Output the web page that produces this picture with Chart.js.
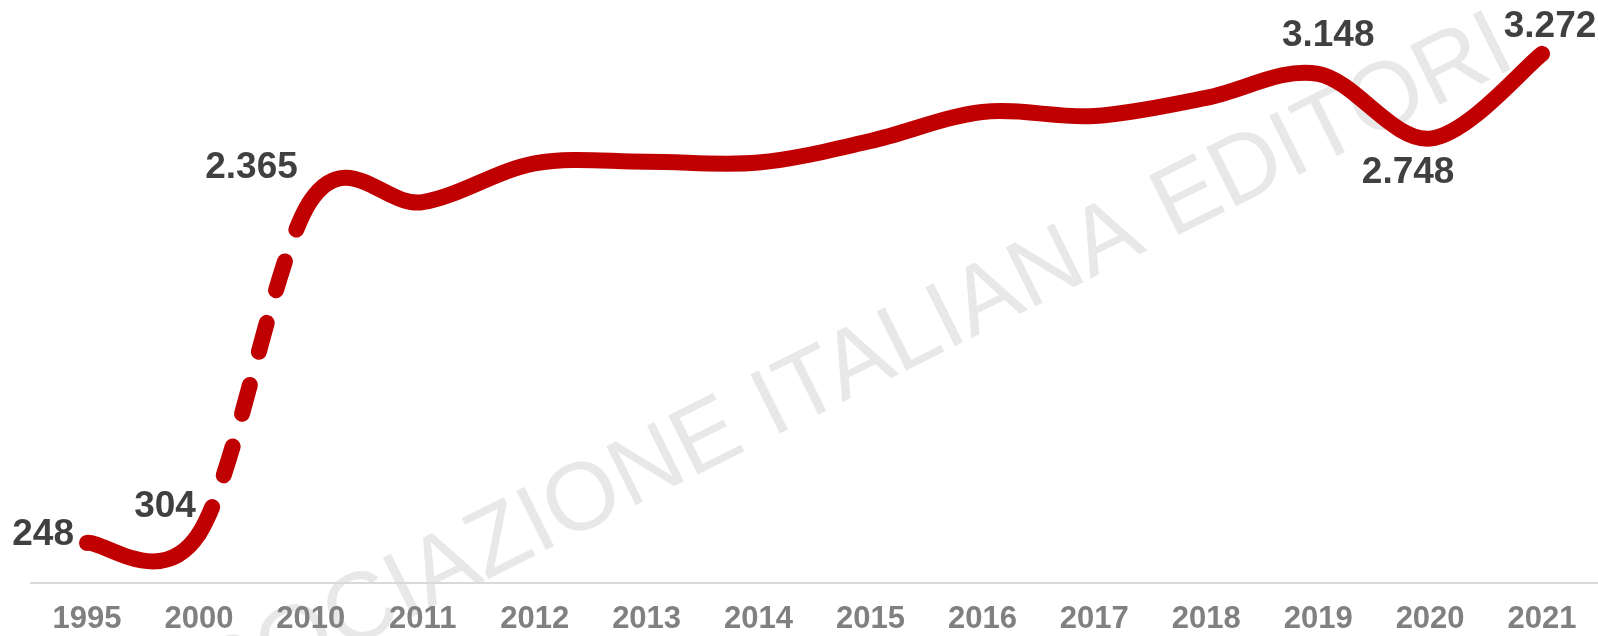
<!DOCTYPE html>
<html>
<head>
  <title>Titoli</title>
  <script src="https://cdn.jsdelivr.net/npm/chart.js"></script>
  <style>
    body { margin: 0; background: #ffffff; }
    #wrap { width: 1598px; height: 636px; position: relative; }
  </style>
</head>
<body>
  <div id="wrap">
    <canvas id="myChart"></canvas>
  </div>
  <script>
    // anni e valori
    var years = ['1995', '2000', '2010', '2011', '2012', '2013', '2014', '2015', '2016', '2017', '2018', '2019', '2020', '2021'];
    var values = [248, 304, 2365, 2355, 2595, 2605, 2600, 2733, 2913, 2888, 3000, 3148, 2748, 3272];
    // quali punti hanno l'etichetta
    var labelled = [0, 1, 2, 11, 12, 13];
    var watermark = 'ASSOCIAZIONE ITALIANA EDITORI';

    // posizione etichette: align + spostamento dal punto
    var labelPos = {
      0: { align: 'right', dx: -13, dy: -8 },
      1: { align: 'right', dx: -3, dy: -27 },
      2: { align: 'right', dx: -13, dy: -33 },
      11: { align: 'center', dx: 10, dy: -38 },
      12: { align: 'center', dx: -22, dy: 34 },
      13: { align: 'center', dx: 8, dy: -27 }
    };

    function fmt(n) {
      return String(n).replace(/\B(?=(\d{3})+(?!\d))/g, '.');
    }

    // curva "smussata" stile Excel: punti di controllo a 1/6 della corda
    var smoothPlugin = {
      id: 'excelSmooth',
      afterDatasetUpdate: function(chart, args) {
        var meta = chart.getDatasetMeta(args.index);
        var pts = meta.data;
        for (var i = 0; i < pts.length; i++) {
          var p = pts[i];
          var a = pts[i - 1] || p;
          var b = pts[i + 1] || p;
          var dx = (b.x - a.x) / 6, dy = (b.y - a.y) / 6;
          p.cp1x = p.x - dx; p.cp1y = p.y - dy;
          p.cp2x = p.x + dx; p.cp2y = p.y + dy;
        }
        meta.dataset._pointsUpdated = true;
      }
    };

    var watermarkPlugin = {
      id: 'watermark',
      beforeDraw: function(chart) {
        var c = chart.ctx;
        c.save();
        c.fillStyle = '#ffffff';
        c.fillRect(0, 0, chart.width, chart.height);
        c.translate(811, 418);
        c.rotate(-26.5 * Math.PI / 180);
        c.font = '96px "Liberation Sans", Arial, sans-serif';
        c.fillStyle = '#e8e8e8';
        c.textAlign = 'center';
        c.textBaseline = 'alphabetic';
        c.fillText(watermark, 0, 0);
        c.restore();
      }
    };

    var labelsPlugin = {
      id: 'valueLabels',
      afterDatasetsDraw: function(chart) {
        var c = chart.ctx;
        var meta = chart.getDatasetMeta(0);
        c.save();
        c.font = 'bold 37px "Liberation Sans", Arial, sans-serif';
        c.fillStyle = '#404040';
        c.textBaseline = 'middle';
        labelled.forEach(function(i) {
          var pt = meta.data[i];
          var p = labelPos[i];
          c.textAlign = p.align;
          c.fillText(fmt(values[i]), pt.x + p.dx, pt.y + p.dy);
        });
        c.restore();
      }
    };

    var ctx = document.getElementById('myChart').getContext('2d');
    var myChart = new Chart(ctx, {
      type: 'line',
      data: {
        labels: years,
        datasets: [{
          data: values,
          borderColor: '#c00000',
          borderWidth: 16,
          borderCapStyle: 'round',
          borderJoinStyle: 'round',
          tension: 0.5,
          pointRadius: 0,
          segment: {
            borderDash: function(s) { return s.p0DataIndex === 1 ? [30, 34] : undefined; }
          }
        }]
      },
      options: {
        responsive: true,
        maintainAspectRatio: false,
        animation: false,
        layout: { padding: { left: 31, top: 17, right: -5, bottom: 0 } },
        plugins: {
          legend: { display: false },
          tooltip: { enabled: false }
        },
        scales: {
          x: {
            offset: true,
            grid: { display: false, drawTicks: false },
            border: { display: true, color: '#d9d9d9', width: 2 },
            afterFit: function(s) { s.height = 53; },
            ticks: {
              autoSkip: false,
              maxRotation: 0,
              padding: 18,
              color: '#808080',
              font: { family: '"Liberation Sans", Arial, sans-serif', size: 31, weight: 'bold' }
            }
          },
          y: {
            display: false,
            min: 0,
            max: 3500
          }
        }
      },
      plugins: [smoothPlugin, watermarkPlugin, labelsPlugin]
    });
  </script>
</body>
</html>
